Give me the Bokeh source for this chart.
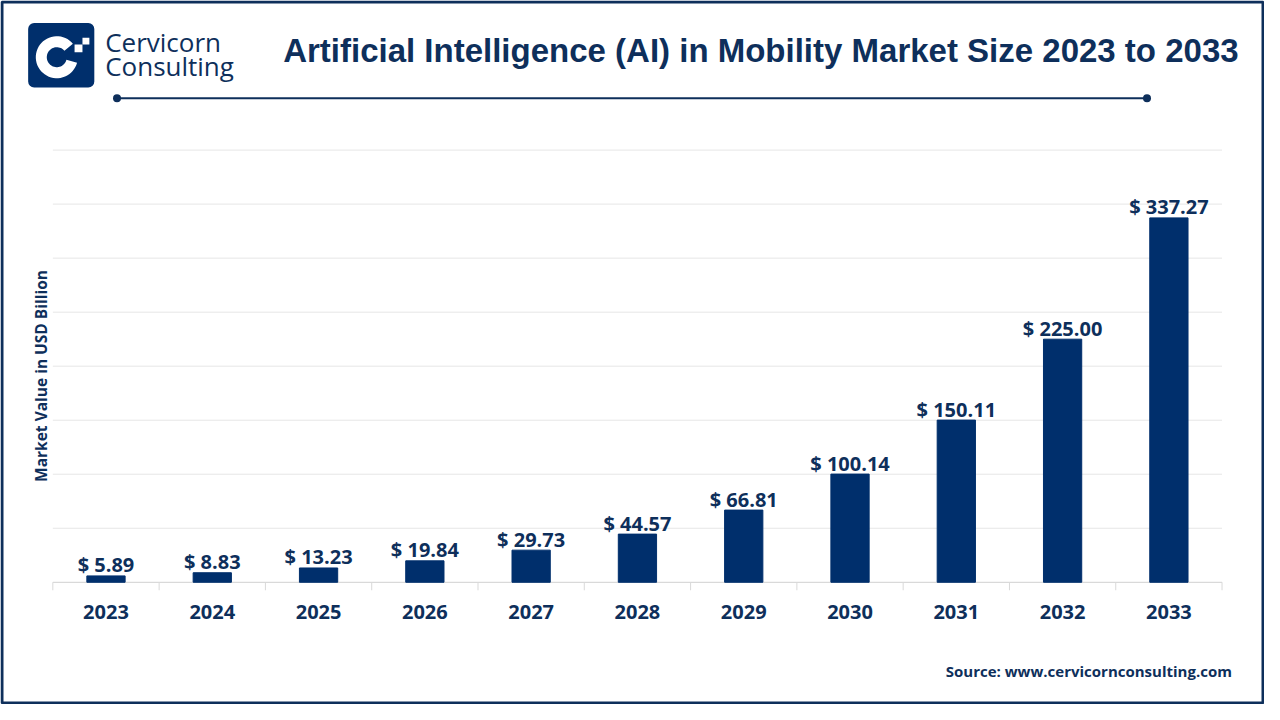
import numpy as np
from bokeh.plotting import figure
from bokeh.models import ColumnDataSource, Range1d
from bokeh.embed import file_html
from bokeh.resources import INLINE
from bokeh.core.properties import value

# ---------------- data ----------------
years = ["2023", "2024", "2025", "2026", "2027", "2028", "2029", "2030", "2031", "2032", "2033"]
market_values = [5.89, 8.83, 13.23, 19.84, 29.73, 44.57, 66.81, 100.14, 150.11, 225.00, 337.27]
grid_ticks = [50, 100, 150, 200, 250, 300, 350, 400]
title_text = "Artificial Intelligence (AI) in Mobility Market Size 2023 to 2033"
ylabel_text = "Market Value in USD Billion"
source_text = "Source: www.cervicornconsulting.com"
logo_line1 = "Cervicorn"
logo_line2 = "Consulting"

NAVY = "#002f6c"
TEXT = "#0e2f5b"
GRID = "#e6e6e6"
AXIS = "#d9d9d9"

W, H = 1264, 704

def X(x):  # reference layout (1280 wide) -> canvas pixels
    return x * W / 1280.0

def Y(y):  # reference layout (720 high) -> canvas pixels
    return y * H / 720.0

# plot area on the canvas
L, R, T, B = X(53), X(1237), Y(153), Y(595)
n = len(years)
VMAX = 400.0
kx = (R - L) / n
ky = (B - T) / VMAX

p = figure(width=W, height=H, x_range=Range1d(0, W), y_range=Range1d(H, 0),
           output_backend="svg", toolbar_location=None,
           x_axis_location=None, y_axis_location=None, min_border=0, title=None)
p.outline_line_color = None
p.xgrid.grid_line_color = None
p.ygrid.grid_line_color = None
p.background_fill_color = "white"
p.border_fill_color = "white"

# chart scales mapped onto the plot area
p.extra_x_ranges = {"cat": Range1d(-L / kx, (W - L) / kx)}
p.extra_y_ranges = {"val": Range1d((B - H) / ky, B / ky)}
CR = dict(x_range_name="cat", y_range_name="val")

xs = [i + 0.5 for i in range(n)]
bounds = list(range(n + 1))
bar_labels = ["$ " + f"{v:.2f}" for v in market_values]
src = ColumnDataSource(dict(x=xs, top=market_values, label=bar_labels, year=years))

# gridlines
p.segment(x0=[0] * len(grid_ticks), x1=[n] * len(grid_ticks), y0=grid_ticks, y1=grid_ticks,
          line_color=GRID, line_width=1, **CR)
# axis line and boundary ticks
p.segment(x0=[0], x1=[n], y0=[0], y1=[0], line_color=AXIS, line_width=1.2, **CR)
p.ray(x=bounds, y=[0] * len(bounds), length=8, length_units="screen", angle=-np.pi / 2,
      line_color=AXIS, line_width=1, **CR)

# bars
p.vbar(x="x", top="top", width=0.36, color=NAVY, source=src, **CR)

# value labels
p.text(x="x", y="top", text="label", source=src, text_align="center",
       text_baseline="alphabetic", y_offset=-11, text_font=value("Open Sans"),
       text_font_style="bold", text_font_size="20px", text_color=TEXT, **CR)
# year labels
p.text(x="x", y=0, text="year", source=src, text_align="center", text_baseline="middle",
       y_offset=30, text_font=value("Open Sans"), text_font_style="bold",
       text_font_size="20px", text_color=TEXT, **CR)

# ---------------- decorations (canvas pixel space) ----------------
def txt(s, x, y, size, font="Open Sans", style="normal", align="left", angle=0.0):
    p.text(x=[X(x)], y=[Y(y)], text=[s], text_font=value(font), text_font_style=style,
           text_font_size=size, text_color=TEXT, text_align=align,
           text_baseline="middle", angle=angle)

txt(title_text, 770, 51, "33px", font="Liberation Sans", style="bold", align="center")
txt(ylabel_text, 41, 384, "15.5px", style="bold", align="center", angle=np.pi / 2)
txt(source_text, 1247, 686, "15px", style="bold", align="right")
txt(logo_line1, 106, 42, "26px")
txt(logo_line2, 106, 67, "26px")

# header rule with end dots
p.line(x=[X(118), X(1161)], y=[Y(100), Y(100)], line_color=TEXT, line_width=2)
p.scatter(x=[X(118), X(1161)], y=[Y(100), Y(100)], size=8, marker="circle",
          fill_color=TEXT, line_color=None)

# logo
p.quad(left=[X(28)], right=[X(95)], top=[Y(23)], bottom=[Y(89)], fill_color=NAVY,
       line_color=None, border_radius=6)
cx, cy = X(57), Y(58)
a_out = np.linspace(np.radians(40), np.radians(345), 48)
a_in = a_out[::-1]
ring_x = list(cx + 21 * np.cos(a_out)) + list(cx + 10 * np.cos(a_in))
ring_y = list(cy - 21 * np.sin(a_out)) + list(cy - 10 * np.sin(a_in))
p.patch(x=ring_x, y=ring_y, fill_color="white", line_color=None)
p.quad(left=[X(75), X(83)], right=[X(83), X(90)], top=[Y(45), Y(38)], bottom=[Y(53), Y(45)],
       fill_color="white", line_color=None)

# outer frame
p.quad(left=[1.5], right=[W - 1.5], top=[1.5], bottom=[H - 1.5], fill_color=None,
       line_color=TEXT, line_width=3)

open("out.html", "w").write(file_html(p, INLINE))
